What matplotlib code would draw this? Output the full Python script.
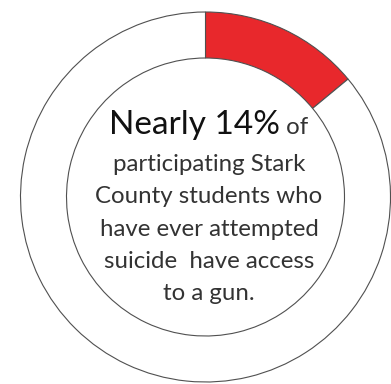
import matplotlib
matplotlib.use("Agg")
import matplotlib.pyplot as plt

# share of students with access to a gun vs. the rest
segments = ["Access to a gun", "No access"]
shares = [14, 86]
seg_colors = ["#E8282C", "#FFFFFF"]

headline = "Nearly 14%"
headline_tail = " of"
body_lines = [
    "participating Stark",
    "County students who",
    "have ever attempted",
    "suicide  have access",
    "to a gun.",
]

W, H, DPI = 391, 384, 100
fig = plt.figure(figsize=(W / DPI, H / DPI), dpi=DPI)
ax = fig.add_axes([0, 0, 1, 1])

cx, cy = 205.5, H - 197
R = 185
ring = 46

ax.pie(shares, colors=seg_colors, startangle=90, counterclock=False,
       center=(cx, cy), radius=R,
       wedgeprops=dict(width=ring, edgecolor="#505050", linewidth=0.8))
ax.set_xlim(0, W)
ax.set_ylim(0, H)
ax.set_aspect("equal")
ax.axis("off")

font = "Lato"
text_x = 209

# first line: large headline followed by a small " of"
t1 = ax.text(0, H - 134, headline, fontsize=24, family=font, color="#111111",
             ha="left", va="baseline")
t2 = ax.text(0, H - 134, headline_tail, fontsize=17.3, family=font, color="#333333",
             ha="left", va="baseline")
fig.canvas.draw()
r = fig.canvas.get_renderer()
w1 = t1.get_window_extent(r).width
w2 = t2.get_window_extent(r).width
x0 = text_x - (w1 + w2) / 2
t1.set_x(x0)
t2.set_x(x0 + w1)

base = H - 171
for i, line in enumerate(body_lines):
    ax.text(text_x, base - i * 32.3, line, fontsize=17.3, family=font,
            color="#333333", ha="center", va="baseline")

fig.savefig("out.png", dpi=DPI, facecolor="white")
